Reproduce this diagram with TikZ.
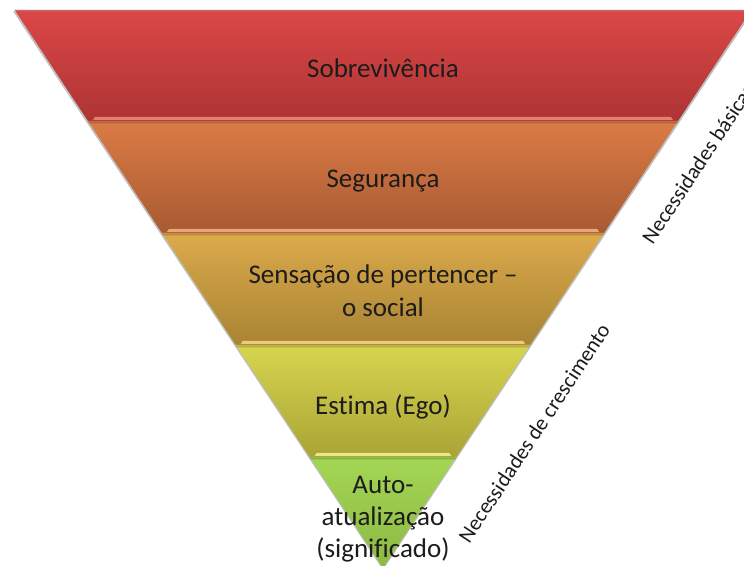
\documentclass[tikz,border=0pt]{standalone}
\usepackage{fontspec}
\setmainfont[Ligatures=NoCommon]{Carlito}
\usetikzlibrary{calc}
\definecolor{txt}{HTML}{1C1C1C}
\definecolor{redT}{HTML}{DC4747}\definecolor{redB}{HTML}{AD3434}\definecolor{redS}{HTML}{E97D72}
\definecolor{orT}{HTML}{DB7B46}\definecolor{orB}{HTML}{A85A32}\definecolor{orS}{HTML}{EDA280}
\definecolor{ylT}{HTML}{DCAA4B}\definecolor{ylB}{HTML}{A88434}\definecolor{ylS}{HTML}{F0C97E}
\definecolor{ygT}{HTML}{D7D54F}\definecolor{ygB}{HTML}{A9A435}\definecolor{ygS}{HTML}{EEE488}
\definecolor{grT}{HTML}{A4D654}\definecolor{grB}{HTML}{8CB943}
\tikzset{
  band/.style={draw=none},
  strip/.style={draw=none},
  bandlabel/.style={text=txt, align=center, font=\fontsize{27}{33}\selectfont, inner sep=0pt},
  sidelabel/.style={text=txt, font=\fontsize{21.5}{25}\selectfont, rotate=56.5, inner sep=0pt}
}
\begin{document}
\begin{tikzpicture}[x=1pt,y=1pt]
\useasboundingbox (0,0) rectangle (744,565);
\fill[white] (0,0) rectangle (744,565);
% corners
\coordinate (L0) at (14.7,555);  \coordinate (R0) at (751.3,555);
\coordinate (L1) at (88.0,444);  \coordinate (R1) at (678.0,444);
\coordinate (L2) at (161.9,332); \coordinate (R2) at (604.1,332);
\coordinate (L3) at (235.8,220); \coordinate (R3) at (530.2,220);
\coordinate (L4) at (309.7,108); \coordinate (R4) at (456.3,108);
\coordinate (A) at (383,-3);
% shadow
\fill[black!55, opacity=0.45] ($(L0)+(-1.5,-1.5)$) -- ($(R0)+(1.5,-1.5)$) -- ($(A)+(0,-2)$) -- cycle;
% bands
\shade[band, top color=redT, bottom color=redB] (L0) -- (R0) -- (R1) -- (L1) -- cycle;
\shade[band, top color=orT, bottom color=orB] (L1) -- (R1) -- (R2) -- (L2) -- cycle;
\shade[band, top color=ylT, bottom color=ylB] (L2) -- (R2) -- (R3) -- (L3) -- cycle;
\shade[band, top color=ygT, bottom color=ygB] (L3) -- (R3) -- (R4) -- (L4) -- cycle;
\shade[band, top color=grT, bottom color=grB] (L4) -- (R4) -- (A) -- cycle;
% top edge
\fill[black!40, opacity=0.5] (L0) -- (R0) -- ($(R0)+(-0.7,-1.2)$) -- ($(L0)+(0.7,-1.2)$) -- cycle;
% bevel strips at band bottoms
\fill[strip, redS] ($(L1)+(5,1)$) -- ($(R1)+(-5,1)$) -- ($(R1)+(-7,4)$) -- ($(L1)+(7,4)$) -- cycle;
\fill[strip, orS] ($(L2)+(5,1)$) -- ($(R2)+(-5,1)$) -- ($(R2)+(-7,4)$) -- ($(L2)+(7,4)$) -- cycle;
\fill[strip, ylS] ($(L3)+(5,1)$) -- ($(R3)+(-5,1)$) -- ($(R3)+(-7,4)$) -- ($(L3)+(7,4)$) -- cycle;
\fill[strip, ygS] ($(L4)+(5,1)$) -- ($(R4)+(-5,1)$) -- ($(R4)+(-7,4)$) -- ($(L4)+(7,4)$) -- cycle;
% dark seam below strips
\fill[black, opacity=0.18] ($(L1)+(0,-0.5)$) -- ($(R1)+(0,-0.5)$) -- ($(R1)+(-1.3,-2.5)$) -- ($(L1)+(1.3,-2.5)$) -- cycle;
\fill[black, opacity=0.18] ($(L2)+(0,-0.5)$) -- ($(R2)+(0,-0.5)$) -- ($(R2)+(-1.3,-2.5)$) -- ($(L2)+(1.3,-2.5)$) -- cycle;
\fill[black, opacity=0.18] ($(L3)+(0,-0.5)$) -- ($(R3)+(0,-0.5)$) -- ($(R3)+(-1.3,-2.5)$) -- ($(L3)+(1.3,-2.5)$) -- cycle;
\fill[black, opacity=0.18] ($(L4)+(0,-0.5)$) -- ($(R4)+(0,-0.5)$) -- ($(R4)+(-1.3,-2.5)$) -- ($(L4)+(1.3,-2.5)$) -- cycle;
% labels
\node[bandlabel] (b1) at (383,497) {Sobrevivência};
\node[bandlabel] (b2) at (383,384) {Segurança};
\node[bandlabel] (b3) at (383,274) {Sensação de pertencer –\\o social};
\node[bandlabel] (b4) at (383,158) {Estima (Ego)};
\node[bandlabel, font=\fontsize{27}{32}\selectfont] (b5) at (383,46) {Auto-\\atualização\\(significado)};
\node[sidelabel] (s1) at (698,401) {Necessidades básicas};
\node[sidelabel] (s2) at (534,132) {Necessidades de crescimento};
\end{tikzpicture}
\end{document}
